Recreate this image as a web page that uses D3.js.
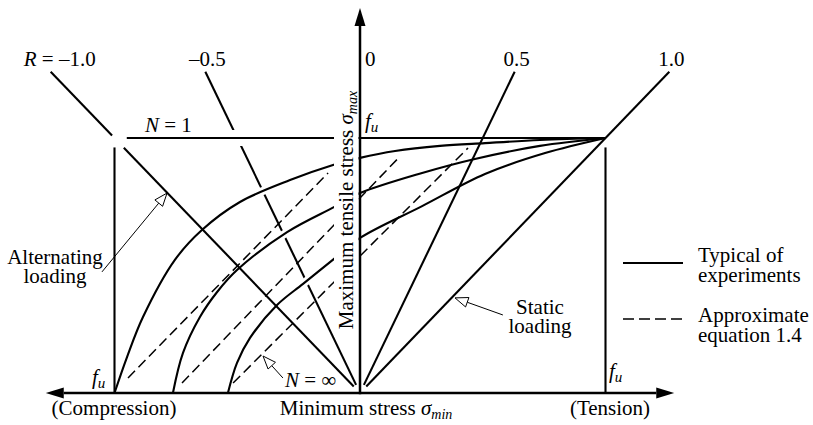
<!DOCTYPE html>
<meta charset="utf-8">
<title>Fatigue diagram</title>
<style>
html, body {
    margin: 0;
    background: #fff;
}
svg {
    display: block;
}
</style>
<body>
<script src="https://cdn.jsdelivr.net/npm/d3@7"></script>
<script>
var width = 813,
    height = 425;

// stress ratio R = smin / smax for each ray, with its label
var ratios = [-1.0, -0.5, 0, 0.5, 1.0];
var ratioLabels = ["–1.0", "–0.5", "0", "0.5", "1.0"];

// typical experimental curves, [smin / fu, smax / fu]
var curveA = [[-1.0, 0], [-0.949, 0.141], [-0.884, 0.298], [-0.754, 0.522], [-0.644, 0.639],
              [-0.489, 0.749], [-0.285, 0.835], [-0.110, 0.894], [0, 0.922], [0.143, 0.949],
              [0.326, 0.969], [0.509, 0.980], [0.733, 0.992], [1.0, 1.0]];
var curveB = [[-0.762, 0], [-0.721, 0.157], [-0.652, 0.298], [-0.582, 0.396], [-0.501, 0.482],
              [-0.297, 0.631], [-0.102, 0.731], [0, 0.784], [0.253, 0.863], [0.468, 0.918],
              [0.733, 0.969], [1.0, 1.0]];
var curveC = [[-0.538, 0], [-0.501, 0.118], [-0.448, 0.216], [-0.338, 0.345], [-0.232, 0.428],
              [-0.102, 0.529], [0, 0.608], [0.253, 0.733], [0.509, 0.859], [0.754, 0.941],
              [1.0, 1.0]];

// static strength N = 1
var staticLine = [[-0.95, 1], [1, 1]];

// approximate equation 1.4
var approxA = [[-0.945, 0.059], [-0.130, 0.863]];
var approxB = [[-0.725, 0.039], [0.157, 0.922]];
var approxC = [[-0.517, 0.039], [0.440, 0.961]];

var x = d3.scaleLinear().domain([-1, 1]).range([114.5, 605.5]),
    y = d3.scaleLinear().domain([0, 1]).range([393, 138]);

var svg = d3.select("body").append("svg")
    .attr("width", width)
    .attr("height", height)
    .attr("font-family", "'Liberation Serif', 'DejaVu Serif', serif");

var line = d3.line()
    .x(function(d) { return x(d[0]); })
    .y(function(d) { return y(d[1]); });

var smooth = d3.line()
    .x(function(d) { return x(d[0]); })
    .y(function(d) { return y(d[1]); })
    .curve(d3.curveCatmullRom.alpha(0.5));

var curves = [curveA, curveB, curveC];
var rTop = 1.26;

function rayNearOrigin(R) {
    // rays stop a few pixels short of the origin
    var tx = x(R * rTop) - x(0), ty = y(rTop) - y(0),
        d = Math.sqrt(tx * tx + ty * ty);
    return [x(0) + tx / d * 9, y(0) + ty / d * 9];
}

function drawRay(R, from, to) {
    var p0 = from == null ? rayNearOrigin(R) : [x(R * from), y(from)],
        p1 = [x(R * to), y(to)];
    svg.append("line")
        .attr("x1", p0[0]).attr("y1", p0[1])
        .attr("x2", p1[0]).attr("y2", p1[1])
        .attr("stroke", "#000")
        .attr("stroke-width", 2.1);
}

// R = -0.5 goes underneath, so the curves can break it
drawRay(-0.5, null, rTop);

svg.append("path")
    .attr("d", line([[-0.95, 1], [-0.12, 1]]))
    .attr("fill", "none")
    .attr("stroke", "#fff")
    .attr("stroke-width", 16);

svg.selectAll(".halo")
    .data(curves)
    .enter().append("path")
    .attr("class", "halo")
    .attr("d", smooth)
    .attr("fill", "none")
    .attr("stroke", "#fff")
    .attr("stroke-width", 8);

svg.selectAll(".curve")
    .data(curves)
    .enter().append("path")
    .attr("class", "curve")
    .attr("d", smooth)
    .attr("fill", "none")
    .attr("stroke", "#000")
    .attr("stroke-width", 2.1);

svg.append("path")
    .attr("d", line(staticLine))
    .attr("fill", "none")
    .attr("stroke", "#000")
    .attr("stroke-width", 2.1);

svg.selectAll(".approx")
    .data([approxA, approxB, approxC])
    .enter().append("path")
    .attr("class", "approx")
    .attr("d", line)
    .attr("fill", "none")
    .attr("stroke", "#000")
    .attr("stroke-width", 1.5)
    .attr("stroke-dasharray", "10,5");

// the other rays
drawRay(-1.0, null, 0.962);
drawRay(-1.0, 1.01, rTop);
drawRay(0.5, null, rTop);
drawRay(1.0, null, rTop);

// fu verticals
[-1, 1].forEach(function(v) {
    svg.append("path")
        .attr("d", line([[v, 0], [v, 0.963]]))
        .attr("stroke", "#000")
        .attr("stroke-width", 2.1);
});

// ray labels
svg.selectAll(".rlabel")
    .data(ratios)
    .enter().append("text")
    .attr("class", "rlabel")
    .attr("x", function(d) {
        if (d === 0) return x(0) + 5;
        if (d === -1) return x(d * rTop) + 45;
        return x(d * rTop) + 2;
    })
    .attr("y", 66)
    .attr("font-size", 21)
    .attr("text-anchor", function(d) {
        return d === 0 ? "start" : d === -1 ? "end" : "middle";
    })
    .html(function(d, i) {
        return (d === -1 ? '<tspan font-style="italic">R</tspan> = ' : "") + ratioLabels[i];
    });

// y axis title on a white ground
svg.append("rect")
    .attr("x", 334)
    .attr("y", 84)
    .attr("width", 24.5)
    .attr("height", 253)
    .attr("fill", "#fff");

svg.append("text")
    .attr("transform", "translate(353,210) rotate(-90)")
    .attr("font-size", 21)
    .attr("text-anchor", "middle")
    .html('Maximum tensile stress <tspan font-style="italic">σ</tspan><tspan font-style="italic" font-size="14" dy="4">max</tspan>');

// axes
function head(tip, tail, len, hw, fill) {
    var dx = tip[0] - tail[0], dy = tip[1] - tail[1],
        d = Math.sqrt(dx * dx + dy * dy), ux = dx / d, uy = dy / d,
        bx = tip[0] - ux * len, by = tip[1] - uy * len;
    svg.append("path")
        .attr("d", "M" + tip + "L" + [bx - uy * hw, by + ux * hw] + "L" + [bx + uy * hw, by - ux * hw] + "Z")
        .attr("fill", fill)
        .attr("stroke", "#000")
        .attr("stroke-width", fill === "#000" ? 0 : 1)
        .attr("stroke-linejoin", "miter");
    return [bx, by];
}

function axis(from, to) {
    var base = head(to, from, 18, 5.5, "#000");
    svg.append("line")
        .attr("x1", from[0]).attr("y1", from[1])
        .attr("x2", base[0]).attr("y2", base[1])
        .attr("stroke", "#000")
        .attr("stroke-width", 2.5);
}

axis([x(0), y(0) + 1.25], [x(0), y(1.51)]);
axis([x(0), y(0)], [x(-1.28), y(0)]);
axis([x(0), y(0)], [x(1.28), y(0)]);

// pointers
function pointer(tail, tip) {
    var t = [x(tail[0]), y(tail[1])], p = [x(tip[0]), y(tip[1])];
    var base = head(p, t, 13, 5, "#fff");
    svg.insert("line", "path:last-child")
        .attr("x1", t[0]).attr("y1", t[1])
        .attr("x2", base[0]).attr("y2", base[1])
        .attr("stroke", "#000")
        .attr("stroke-width", 1);
}

pointer([-1.051, 0.475], [-0.786, 0.784]);
pointer([0.582, 0.306], [0.387, 0.373]);
pointer([-0.314, 0.059], [-0.395, 0.145]);

function label(px, py, html, anchor) {
    svg.append("text")
        .attr("x", px)
        .attr("y", py)
        .attr("font-size", 21)
        .attr("text-anchor", anchor || "start")
        .html(html);
}

var fu = '<tspan font-style="italic">f</tspan><tspan font-style="italic" font-size="15" dy="4">u</tspan>';

label(365, 128, fu);
label(92, 384, fu);
label(609, 378, fu);
label(145, 132, '<tspan font-style="italic">N</tspan> = 1');
label(285, 387, '<tspan font-style="italic">N</tspan> = ∞');

label(55, 264, "Alternating", "middle");
label(55, 283, "loading", "middle");
label(540, 314, "Static", "middle");
label(540, 333, "loading", "middle");

label(114, 415, "(Compression)", "middle");
label(366, 415, 'Minimum stress <tspan font-style="italic">σ</tspan><tspan font-style="italic" font-size="14" dy="4">min</tspan>', "middle");
label(610, 415, "(Tension)", "middle");

// legend
svg.append("line")
    .attr("x1", 623).attr("x2", 683)
    .attr("y1", 263).attr("y2", 263)
    .attr("stroke", "#000")
    .attr("stroke-width", 2.1);
svg.append("line")
    .attr("x1", 623).attr("x2", 683)
    .attr("y1", 319).attr("y2", 319)
    .attr("stroke", "#000")
    .attr("stroke-width", 1.5)
    .attr("stroke-dasharray", "11,5");

label(698, 262, "Typical of");
label(698, 282, "experiments");
label(698, 322, "Approximate");
label(698, 342, "equation 1.4");
</script>
